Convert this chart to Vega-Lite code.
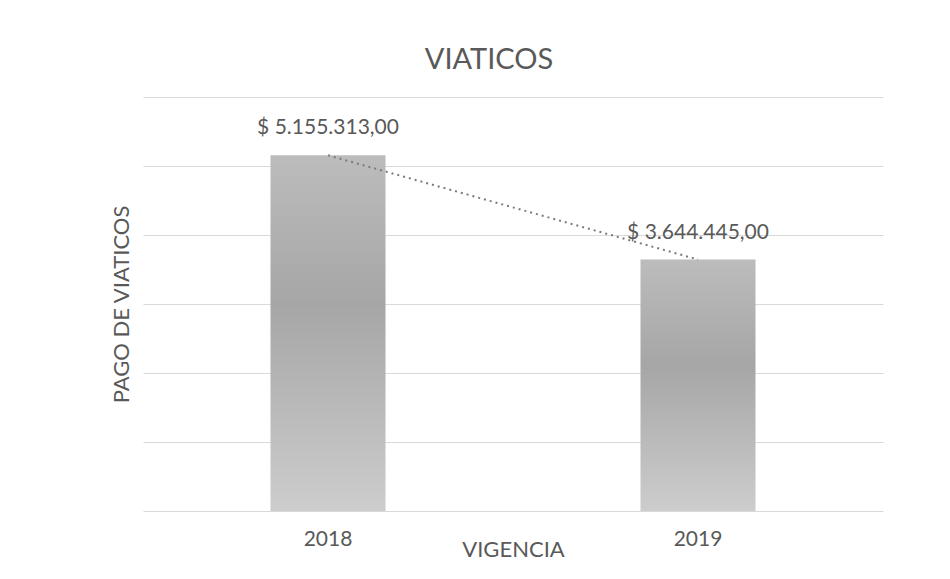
{
  "$schema": "https://vega.github.io/schema/vega-lite/v6.json",
  "autosize": {"type": "none"},
  "width": 740,
  "height": 414,
  "padding": {"left": 143, "top": 97, "right": 67, "bottom": 68},
  "background": "white",
  "config": {
    "font": "Lato",
    "view": {"stroke": null}
  },
  "title": {
    "text": "VIATICOS",
    "fontSize": 29,
    "fontWeight": "normal",
    "color": "#595959",
    "anchor": "middle",
    "dx": -24,
    "offset": 22
  },
  "data": {
    "values": [
      {"year": "2018", "value": 5155313, "label": "$ 5.155.313,00"},
      {"year": "2019", "value": 3644445, "label": "$ 3.644.445,00"}
    ]
  },
  "encoding": {
    "x": {
      "field": "year",
      "type": "nominal",
      "scale": {"paddingInner": 0, "paddingOuter": 0},
      "axis": {
        "title": "VIGENCIA",
        "labelAngle": 0,
        "labelFontSize": 21,
        "labelColor": "#595959",
        "labelPadding": 17,
        "ticks": false,
        "domain": false,
        "titleFontSize": 22,
        "titleFontWeight": "normal",
        "titleColor": "#595959",
        "titleY": 38,
        "titleBaseline": "middle"
      }
    },
    "y": {
      "field": "value",
      "type": "quantitative",
      "scale": {"domain": [0, 6000000], "nice": false},
      "axis": {
        "title": "PAGO DE VIATICOS",
        "values": [0, 1000000, 2000000, 3000000, 4000000, 5000000, 6000000],
        "labels": false,
        "ticks": false,
        "domain": false,
        "grid": true,
        "gridColor": "#d9d9d9",
        "gridWidth": 1,
        "titleFontSize": 22,
        "titleFontWeight": "normal",
        "titleColor": "#595959",
        "titlePadding": 10
      }
    }
  },
  "layer": [
    {
      "mark": {
        "type": "bar",
        "size": 115,
        "color": {
          "gradient": "linear",
          "x1": 0, "y1": 0, "x2": 0, "y2": 1,
          "stops": [
            {"offset": 0, "color": "#bcbcbc"},
            {"offset": 0.42, "color": "#a6a6a6"},
            {"offset": 1, "color": "#cdcdcd"}
          ]
        }
      }
    },
    {
      "mark": {
        "type": "line",
        "color": "#7a7a7a",
        "strokeWidth": 2,
        "strokeDash": [2, 4]
      }
    },
    {
      "mark": {
        "type": "text",
        "fontSize": 21,
        "color": "#595959",
        "baseline": "middle",
        "dy": -27
      },
      "encoding": {"text": {"field": "label"}}
    }
  ]
}
